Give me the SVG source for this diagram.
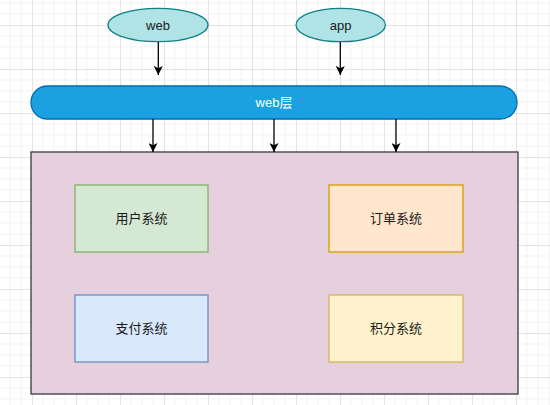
<svg xmlns="http://www.w3.org/2000/svg" width="550" height="405" viewBox="0 0 550 405">
  <style>
    .lbl { font-family: "Liberation Sans", "Noto Sans CJK SC", sans-serif; font-size: 13px; fill: #1a1a1a; text-anchor: middle; dominant-baseline: central; }
    .white { fill: #ffffff; }
    .conn { stroke: #000000; stroke-width: 1.3; fill: none; marker-end: url(#arrow); }
    .oval { fill: #b0e3e6; stroke: #0e8088; stroke-width: 1.3; }
  </style>
  <defs>
    <pattern id="grid" patternUnits="userSpaceOnUse" x="32" y="25" width="44" height="44">
      <path d="M11 0V44M22 0V44M33 0V44M0 11H44M0 22H44M0 33H44" stroke="#f3f3f3" stroke-width="1"/>
      <path d="M0.5 0V44M0 0.5H44" stroke="#e4e4e4" stroke-width="1"/>
    </pattern>
    <marker id="arrow" viewBox="0 0 10 10" refX="10" refY="5" markerWidth="9" markerHeight="9" markerUnits="userSpaceOnUse" orient="auto">
      <path d="M0,0 L10,5 L0,10 L2.5,5 Z" fill="#000000"/>
    </marker>
  </defs>
  <rect x="0" y="0" width="550" height="405" fill="#ffffff"/>
  <rect x="0" y="0" width="550" height="405" fill="url(#grid)"/>

  <g id="container">
    <rect x="31" y="152" width="487" height="242" fill="#e6d0de" stroke="#36393d" stroke-width="1.3"/>
  </g>

  <g id="node-web">
    <ellipse class="oval" cx="158" cy="25" rx="50" ry="16.7"/>
    <text class="lbl" x="158" y="25">web</text>
  </g>
  <g id="node-app">
    <ellipse class="oval" cx="340.7" cy="25" rx="44.7" ry="16.7"/>
    <text class="lbl" x="340.7" y="25">app</text>
  </g>
  <g id="node-weblayer">
    <rect x="31" y="86" width="486" height="33" rx="16.5" ry="16.5" fill="#1ba1e2" stroke="#006eaf" stroke-width="1.3"/>
    <text class="lbl white" x="274" y="102.5">web层</text>
  </g>

  <g id="node-user">
    <rect x="75" y="185" width="133" height="67" fill="#d5e8d4" stroke="#82b366" stroke-width="1.3"/>
    <text class="lbl" x="141.5" y="218.5">用户系统</text>
  </g>
  <g id="node-order">
    <rect x="329" y="185" width="134" height="67" fill="#ffe6cc" stroke="#d79b00" stroke-width="1.3"/>
    <text class="lbl" x="396" y="218.5">订单系统</text>
  </g>
  <g id="node-pay">
    <rect x="75" y="295" width="133" height="67" fill="#dae8fc" stroke="#6c8ebf" stroke-width="1.3"/>
    <text class="lbl" x="141.5" y="328.5">支付系统</text>
  </g>
  <g id="node-points">
    <rect x="329" y="295" width="134" height="67" fill="#fff2cc" stroke="#d6b656" stroke-width="1.3"/>
    <text class="lbl" x="396" y="328.5">积分系统</text>
  </g>

  <g id="connectors">
    <line class="conn" x1="158.3" y1="42" x2="158.3" y2="75"/>
    <line class="conn" x1="340.3" y1="42" x2="340.3" y2="75"/>
    <line class="conn" x1="153" y1="119" x2="153" y2="152"/>
    <line class="conn" x1="274" y1="119" x2="274" y2="152"/>
    <line class="conn" x1="396" y1="119" x2="396" y2="152"/>
  </g>
</svg>
